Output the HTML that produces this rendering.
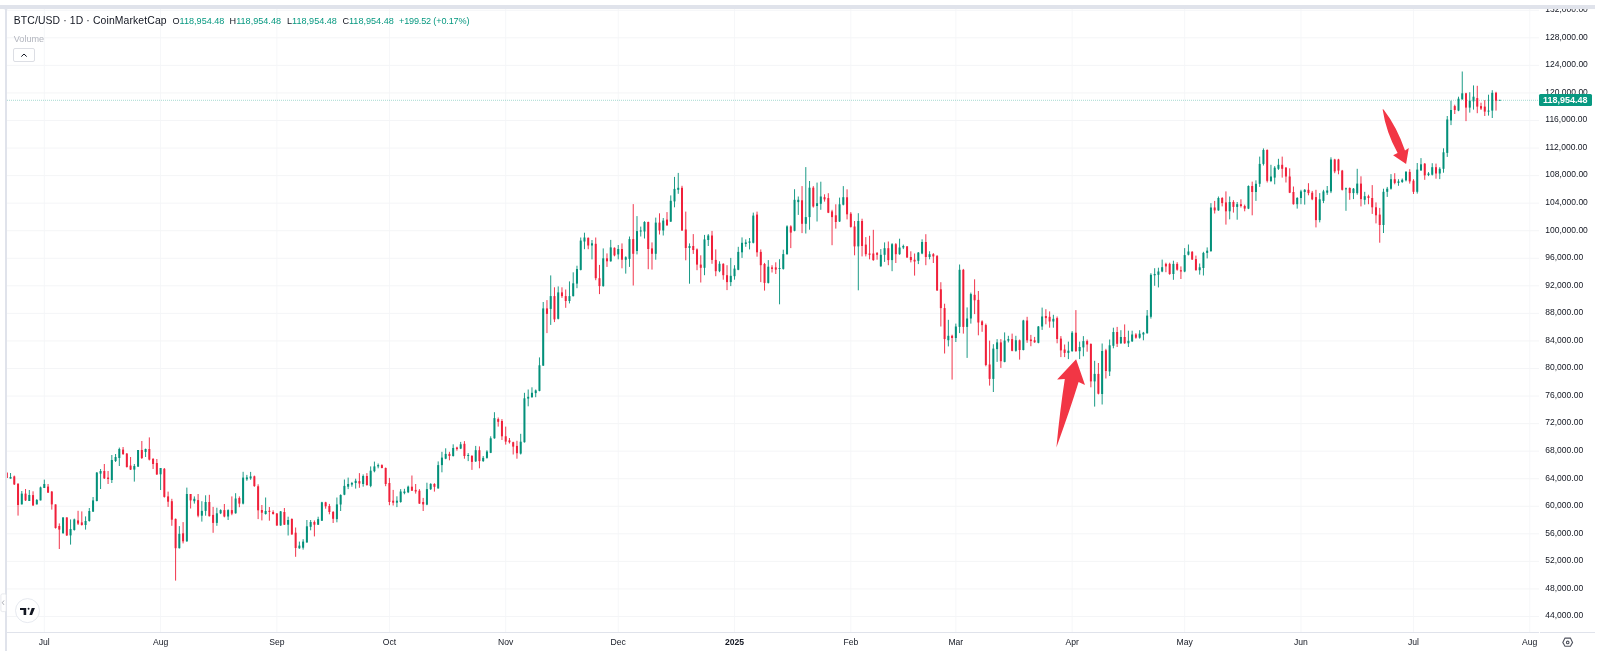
<!DOCTYPE html>
<html><head><meta charset="utf-8"><style>
*{margin:0;padding:0;box-sizing:border-box}
html,body{width:1600px;height:655px;overflow:hidden;background:#fff;font-family:"Liberation Sans",sans-serif;}
.t{position:absolute;left:0;top:0;width:1600px;height:655px;will-change:transform}
.fr{position:absolute;background:#e0e3eb}
.pl{position:absolute;left:1545.3px;font-size:8.5px;line-height:12px;color:#131722;white-space:nowrap}
.tl{position:absolute;top:636px;width:60px;text-align:center;font-size:8.6px;line-height:12px;color:#131722}
.tl.b{font-weight:bold}
.hdr{position:absolute;left:13.8px;top:14px;font-size:10.4px;letter-spacing:0.12px;line-height:14px;color:#131722;white-space:nowrap}
.ohlc{position:absolute;top:14.5px;font-size:9.1px;line-height:12px;white-space:nowrap;color:#131722}
.ohlc span{color:#089981}
.vol{position:absolute;left:13.8px;top:33.9px;font-size:9.1px;line-height:11px;color:#b2b5be}
.btn{position:absolute;left:13.2px;top:47.6px;width:21.6px;height:14.8px;border:1px solid #dcdee4;border-radius:2px;background:#fff}
.tag{position:absolute;left:1539px;top:94.1px;width:52.8px;height:12px;background:#089981;border-radius:1.5px;color:#fff;font-weight:bold;font-size:9px;line-height:12px;text-align:right;padding-right:4.2px}
</style></head><body>
<svg width="1600" height="655" viewBox="0 0 1600 655" style="position:absolute;left:0;top:0">
<defs><clipPath id="cp"><rect x="7" y="8.7" width="1532" height="623.3"/></clipPath></defs>
<g clip-path="url(#cp)">
<rect x="43.80" y="8.7" width="1" height="623.3" fill="#f6f7f9"/><rect x="160.09" y="8.7" width="1" height="623.3" fill="#f6f7f9"/><rect x="276.37" y="8.7" width="1" height="623.3" fill="#f6f7f9"/><rect x="388.91" y="8.7" width="1" height="623.3" fill="#f6f7f9"/><rect x="505.20" y="8.7" width="1" height="623.3" fill="#f6f7f9"/><rect x="617.73" y="8.7" width="1" height="623.3" fill="#f6f7f9"/><rect x="734.02" y="8.7" width="1" height="623.3" fill="#f6f7f9"/><rect x="850.31" y="8.7" width="1" height="623.3" fill="#f6f7f9"/><rect x="955.34" y="8.7" width="1" height="623.3" fill="#f6f7f9"/><rect x="1071.63" y="8.7" width="1" height="623.3" fill="#f6f7f9"/><rect x="1184.16" y="8.7" width="1" height="623.3" fill="#f6f7f9"/><rect x="1300.45" y="8.7" width="1" height="623.3" fill="#f6f7f9"/><rect x="1412.99" y="8.7" width="1" height="623.3" fill="#f6f7f9"/><rect x="1529.28" y="8.7" width="1" height="623.3" fill="#f6f7f9"/><rect x="7" y="616.00" width="1532" height="1" fill="#f4f5f7"/><rect x="7" y="588.44" width="1532" height="1" fill="#f4f5f7"/><rect x="7" y="560.89" width="1532" height="1" fill="#f4f5f7"/><rect x="7" y="533.33" width="1532" height="1" fill="#f4f5f7"/><rect x="7" y="505.78" width="1532" height="1" fill="#f4f5f7"/><rect x="7" y="478.22" width="1532" height="1" fill="#f4f5f7"/><rect x="7" y="450.66" width="1532" height="1" fill="#f4f5f7"/><rect x="7" y="423.11" width="1532" height="1" fill="#f4f5f7"/><rect x="7" y="395.55" width="1532" height="1" fill="#f4f5f7"/><rect x="7" y="368.00" width="1532" height="1" fill="#f4f5f7"/><rect x="7" y="340.44" width="1532" height="1" fill="#f4f5f7"/><rect x="7" y="312.88" width="1532" height="1" fill="#f4f5f7"/><rect x="7" y="285.33" width="1532" height="1" fill="#f4f5f7"/><rect x="7" y="257.77" width="1532" height="1" fill="#f4f5f7"/><rect x="7" y="230.22" width="1532" height="1" fill="#f4f5f7"/><rect x="7" y="202.66" width="1532" height="1" fill="#f4f5f7"/><rect x="7" y="175.10" width="1532" height="1" fill="#f4f5f7"/><rect x="7" y="147.55" width="1532" height="1" fill="#f4f5f7"/><rect x="7" y="119.99" width="1532" height="1" fill="#f4f5f7"/><rect x="7" y="92.44" width="1532" height="1" fill="#f4f5f7"/><rect x="7" y="64.88" width="1532" height="1" fill="#f4f5f7"/><rect x="7" y="37.32" width="1532" height="1" fill="#f4f5f7"/><rect x="7" y="9.77" width="1532" height="1" fill="#f4f5f7"/>
<line x1="7" y1="100.3" x2="1539" y2="100.3" stroke="#089981" stroke-width="1" stroke-dasharray="1 1" opacity="0.35"/>
<rect x="6.29" y="472.6" width="1.0" height="5.4" fill="#f0203a" opacity="0.9"/><rect x="5.79" y="472.6" width="2.0" height="5.4" fill="#f0203a"/><rect x="10.04" y="473.0" width="1.0" height="5.6" fill="#03907a" opacity="0.9"/><rect x="9.54" y="477.0" width="2.0" height="1.6" fill="#03907a"/><rect x="13.79" y="475.6" width="1.0" height="9.4" fill="#f0203a" opacity="0.9"/><rect x="13.29" y="476.4" width="2.0" height="8.0" fill="#f0203a"/><rect x="17.54" y="483.6" width="1.0" height="32.0" fill="#f0203a" opacity="0.9"/><rect x="17.04" y="483.6" width="2.0" height="21.4" fill="#f0203a"/><rect x="21.29" y="491.0" width="1.0" height="13.4" fill="#03907a" opacity="0.9"/><rect x="20.79" y="493.6" width="2.0" height="10.8" fill="#03907a"/><rect x="25.04" y="489.0" width="1.0" height="12.0" fill="#f0203a" opacity="0.9"/><rect x="24.54" y="493.6" width="2.0" height="6.8" fill="#f0203a"/><rect x="28.80" y="490.0" width="1.0" height="11.0" fill="#03907a" opacity="0.9"/><rect x="28.30" y="495.0" width="2.0" height="6.0" fill="#03907a"/><rect x="32.55" y="491.3" width="1.0" height="14.7" fill="#f0203a" opacity="0.9"/><rect x="32.05" y="495.1" width="2.0" height="10.3" fill="#f0203a"/><rect x="36.30" y="499.0" width="1.0" height="5.4" fill="#03907a" opacity="0.9"/><rect x="35.80" y="500.0" width="2.0" height="4.4" fill="#03907a"/><rect x="40.05" y="486.6" width="1.0" height="13.8" fill="#03907a" opacity="0.9"/><rect x="39.55" y="487.4" width="2.0" height="13.0" fill="#03907a"/><rect x="43.80" y="479.6" width="1.0" height="8.4" fill="#03907a" opacity="0.9"/><rect x="43.30" y="484.0" width="2.0" height="4.0" fill="#03907a"/><rect x="47.55" y="484.0" width="1.0" height="9.0" fill="#f0203a" opacity="0.9"/><rect x="47.05" y="486.6" width="2.0" height="6.0" fill="#f0203a"/><rect x="51.30" y="491.0" width="1.0" height="18.6" fill="#f0203a" opacity="0.9"/><rect x="50.80" y="491.6" width="2.0" height="12.8" fill="#f0203a"/><rect x="55.05" y="504.4" width="1.0" height="24.2" fill="#f0203a" opacity="0.9"/><rect x="54.55" y="504.4" width="2.0" height="23.6" fill="#f0203a"/><rect x="58.80" y="523.4" width="1.0" height="25.6" fill="#f0203a" opacity="0.9"/><rect x="58.30" y="526.0" width="2.0" height="3.6" fill="#f0203a"/><rect x="62.56" y="517.4" width="1.0" height="16.6" fill="#03907a" opacity="0.9"/><rect x="62.06" y="517.4" width="2.0" height="15.6" fill="#03907a"/><rect x="66.31" y="517.4" width="1.0" height="18.6" fill="#f0203a" opacity="0.9"/><rect x="65.81" y="517.4" width="2.0" height="18.0" fill="#f0203a"/><rect x="70.06" y="519.4" width="1.0" height="25.2" fill="#03907a" opacity="0.9"/><rect x="69.56" y="529.0" width="2.0" height="6.4" fill="#03907a"/><rect x="73.81" y="518.6" width="1.0" height="12.0" fill="#03907a" opacity="0.9"/><rect x="73.31" y="519.4" width="2.0" height="10.6" fill="#03907a"/><rect x="77.56" y="510.8" width="1.0" height="14.2" fill="#f0203a" opacity="0.9"/><rect x="77.06" y="520.4" width="2.0" height="3.2" fill="#f0203a"/><rect x="81.31" y="511.4" width="1.0" height="14.2" fill="#f0203a" opacity="0.9"/><rect x="80.81" y="522.4" width="2.0" height="2.6" fill="#f0203a"/><rect x="85.06" y="516.4" width="1.0" height="13.2" fill="#03907a" opacity="0.9"/><rect x="84.56" y="521.0" width="2.0" height="4.0" fill="#03907a"/><rect x="88.81" y="508.0" width="1.0" height="13.6" fill="#03907a" opacity="0.9"/><rect x="88.31" y="511.0" width="2.0" height="10.0" fill="#03907a"/><rect x="92.57" y="497.0" width="1.0" height="15.0" fill="#03907a" opacity="0.9"/><rect x="92.07" y="500.4" width="2.0" height="11.2" fill="#03907a"/><rect x="96.32" y="472.0" width="1.0" height="29.4" fill="#03907a" opacity="0.9"/><rect x="95.82" y="472.6" width="2.0" height="28.4" fill="#03907a"/><rect x="100.07" y="469.0" width="1.0" height="20.0" fill="#03907a" opacity="0.9"/><rect x="99.57" y="471.0" width="2.0" height="2.6" fill="#03907a"/><rect x="103.82" y="464.0" width="1.0" height="15.0" fill="#f0203a" opacity="0.9"/><rect x="103.32" y="471.0" width="2.0" height="7.4" fill="#f0203a"/><rect x="107.57" y="471.0" width="1.0" height="13.0" fill="#f0203a" opacity="0.9"/><rect x="107.07" y="477.6" width="2.0" height="1.4" fill="#f0203a"/><rect x="111.32" y="455.0" width="1.0" height="28.0" fill="#03907a" opacity="0.9"/><rect x="110.82" y="460.0" width="2.0" height="20.0" fill="#03907a"/><rect x="115.07" y="454.0" width="1.0" height="8.0" fill="#03907a" opacity="0.9"/><rect x="114.57" y="457.0" width="2.0" height="4.0" fill="#03907a"/><rect x="118.82" y="447.6" width="1.0" height="18.4" fill="#03907a" opacity="0.9"/><rect x="118.32" y="449.0" width="2.0" height="9.0" fill="#03907a"/><rect x="122.58" y="447.0" width="1.0" height="8.0" fill="#f0203a" opacity="0.9"/><rect x="122.08" y="449.6" width="2.0" height="4.4" fill="#f0203a"/><rect x="126.33" y="453.0" width="1.0" height="14.6" fill="#f0203a" opacity="0.9"/><rect x="125.83" y="453.6" width="2.0" height="13.4" fill="#f0203a"/><rect x="130.08" y="457.0" width="1.0" height="13.0" fill="#f0203a" opacity="0.9"/><rect x="129.58" y="465.6" width="2.0" height="4.0" fill="#f0203a"/><rect x="133.83" y="464.0" width="1.0" height="17.6" fill="#03907a" opacity="0.9"/><rect x="133.33" y="466.0" width="2.0" height="3.6" fill="#03907a"/><rect x="137.58" y="450.0" width="1.0" height="17.0" fill="#03907a" opacity="0.9"/><rect x="137.08" y="450.0" width="2.0" height="16.6" fill="#03907a"/><rect x="141.33" y="441.0" width="1.0" height="18.0" fill="#f0203a" opacity="0.9"/><rect x="140.83" y="450.0" width="2.0" height="8.0" fill="#f0203a"/><rect x="145.08" y="448.6" width="1.0" height="8.4" fill="#03907a" opacity="0.9"/><rect x="144.58" y="449.0" width="2.0" height="3.0" fill="#03907a"/><rect x="148.83" y="437.4" width="1.0" height="23.0" fill="#f0203a" opacity="0.9"/><rect x="148.33" y="449.0" width="2.0" height="10.6" fill="#f0203a"/><rect x="152.58" y="458.0" width="1.0" height="11.0" fill="#f0203a" opacity="0.9"/><rect x="152.08" y="459.0" width="2.0" height="5.0" fill="#f0203a"/><rect x="156.34" y="459.0" width="1.0" height="16.0" fill="#f0203a" opacity="0.9"/><rect x="155.84" y="463.0" width="2.0" height="11.4" fill="#f0203a"/><rect x="160.09" y="468.0" width="1.0" height="22.0" fill="#03907a" opacity="0.9"/><rect x="159.59" y="468.0" width="2.0" height="6.3" fill="#03907a"/><rect x="163.84" y="468.0" width="1.0" height="29.6" fill="#f0203a" opacity="0.9"/><rect x="163.34" y="468.8" width="2.0" height="28.1" fill="#f0203a"/><rect x="167.59" y="491.6" width="1.0" height="15.3" fill="#f0203a" opacity="0.9"/><rect x="167.09" y="496.4" width="2.0" height="5.3" fill="#f0203a"/><rect x="171.34" y="498.8" width="1.0" height="27.0" fill="#f0203a" opacity="0.9"/><rect x="170.84" y="501.2" width="2.0" height="18.5" fill="#f0203a"/><rect x="175.09" y="518.5" width="1.0" height="62.1" fill="#f0203a" opacity="0.9"/><rect x="174.59" y="518.9" width="2.0" height="29.3" fill="#f0203a"/><rect x="178.84" y="526.1" width="1.0" height="22.4" fill="#03907a" opacity="0.9"/><rect x="178.34" y="533.8" width="2.0" height="14.4" fill="#03907a"/><rect x="182.59" y="522.1" width="1.0" height="21.3" fill="#f0203a" opacity="0.9"/><rect x="182.09" y="533.3" width="2.0" height="8.0" fill="#f0203a"/><rect x="186.35" y="487.6" width="1.0" height="54.2" fill="#03907a" opacity="0.9"/><rect x="185.85" y="494.0" width="2.0" height="47.3" fill="#03907a"/><rect x="190.10" y="494.0" width="1.0" height="14.5" fill="#f0203a" opacity="0.9"/><rect x="189.60" y="494.0" width="2.0" height="6.4" fill="#f0203a"/><rect x="193.85" y="496.4" width="1.0" height="7.2" fill="#03907a" opacity="0.9"/><rect x="193.35" y="498.8" width="2.0" height="2.4" fill="#03907a"/><rect x="197.60" y="494.0" width="1.0" height="23.3" fill="#f0203a" opacity="0.9"/><rect x="197.10" y="500.1" width="2.0" height="15.6" fill="#f0203a"/><rect x="201.35" y="501.2" width="1.0" height="20.4" fill="#03907a" opacity="0.9"/><rect x="200.85" y="510.9" width="2.0" height="4.8" fill="#03907a"/><rect x="205.10" y="495.3" width="1.0" height="20.4" fill="#03907a" opacity="0.9"/><rect x="204.60" y="502.0" width="2.0" height="8.9" fill="#03907a"/><rect x="208.85" y="494.8" width="1.0" height="21.7" fill="#f0203a" opacity="0.9"/><rect x="208.35" y="502.0" width="2.0" height="14.2" fill="#f0203a"/><rect x="212.60" y="506.9" width="1.0" height="25.9" fill="#f0203a" opacity="0.9"/><rect x="212.10" y="514.9" width="2.0" height="8.0" fill="#f0203a"/><rect x="216.36" y="507.7" width="1.0" height="18.1" fill="#03907a" opacity="0.9"/><rect x="215.86" y="513.3" width="2.0" height="9.6" fill="#03907a"/><rect x="220.11" y="509.3" width="1.0" height="4.8" fill="#03907a" opacity="0.9"/><rect x="219.61" y="510.1" width="2.0" height="3.2" fill="#03907a"/><rect x="223.86" y="504.0" width="1.0" height="13.3" fill="#f0203a" opacity="0.9"/><rect x="223.36" y="510.1" width="2.0" height="6.4" fill="#f0203a"/><rect x="227.61" y="509.3" width="1.0" height="10.7" fill="#03907a" opacity="0.9"/><rect x="227.11" y="510.1" width="2.0" height="6.4" fill="#03907a"/><rect x="231.36" y="496.4" width="1.0" height="18.8" fill="#f0203a" opacity="0.9"/><rect x="230.86" y="510.1" width="2.0" height="3.5" fill="#f0203a"/><rect x="235.11" y="493.2" width="1.0" height="20.4" fill="#03907a" opacity="0.9"/><rect x="234.61" y="498.5" width="2.0" height="14.8" fill="#03907a"/><rect x="238.86" y="496.4" width="1.0" height="10.8" fill="#f0203a" opacity="0.9"/><rect x="238.36" y="498.0" width="2.0" height="5.6" fill="#f0203a"/><rect x="242.61" y="471.8" width="1.0" height="32.6" fill="#03907a" opacity="0.9"/><rect x="242.11" y="477.6" width="2.0" height="26.0" fill="#03907a"/><rect x="246.36" y="474.9" width="1.0" height="5.9" fill="#03907a" opacity="0.9"/><rect x="245.86" y="477.4" width="2.0" height="1.9" fill="#03907a"/><rect x="250.12" y="471.9" width="1.0" height="7.9" fill="#03907a" opacity="0.9"/><rect x="249.62" y="476.4" width="2.0" height="2.0" fill="#03907a"/><rect x="253.87" y="475.6" width="1.0" height="11.2" fill="#f0203a" opacity="0.9"/><rect x="253.37" y="476.3" width="2.0" height="9.8" fill="#f0203a"/><rect x="257.62" y="484.3" width="1.0" height="34.8" fill="#f0203a" opacity="0.9"/><rect x="257.12" y="486.3" width="2.0" height="24.0" fill="#f0203a"/><rect x="261.37" y="505.0" width="1.0" height="15.4" fill="#f0203a" opacity="0.9"/><rect x="260.87" y="510.0" width="2.0" height="2.7" fill="#f0203a"/><rect x="265.12" y="497.5" width="1.0" height="17.1" fill="#03907a" opacity="0.9"/><rect x="264.62" y="511.0" width="2.0" height="3.0" fill="#03907a"/><rect x="268.87" y="507.0" width="1.0" height="13.7" fill="#f0203a" opacity="0.9"/><rect x="268.37" y="510.8" width="2.0" height="1.1" fill="#f0203a"/><rect x="272.62" y="510.3" width="1.0" height="4.3" fill="#f0203a" opacity="0.9"/><rect x="272.12" y="512.0" width="2.0" height="2.0" fill="#f0203a"/><rect x="276.37" y="513.0" width="1.0" height="12.8" fill="#f0203a" opacity="0.9"/><rect x="275.87" y="513.5" width="2.0" height="12.0" fill="#f0203a"/><rect x="280.13" y="511.0" width="1.0" height="14.8" fill="#03907a" opacity="0.9"/><rect x="279.63" y="511.4" width="2.0" height="14.1" fill="#03907a"/><rect x="283.88" y="508.0" width="1.0" height="17.0" fill="#f0203a" opacity="0.9"/><rect x="283.38" y="512.0" width="2.0" height="12.7" fill="#f0203a"/><rect x="287.63" y="516.7" width="1.0" height="18.8" fill="#03907a" opacity="0.9"/><rect x="287.13" y="520.0" width="2.0" height="4.7" fill="#03907a"/><rect x="291.38" y="518.3" width="1.0" height="16.5" fill="#f0203a" opacity="0.9"/><rect x="290.88" y="519.0" width="2.0" height="15.4" fill="#f0203a"/><rect x="295.13" y="527.5" width="1.0" height="29.3" fill="#f0203a" opacity="0.9"/><rect x="294.63" y="532.7" width="2.0" height="15.3" fill="#f0203a"/><rect x="298.88" y="541.6" width="1.0" height="7.2" fill="#03907a" opacity="0.9"/><rect x="298.38" y="545.6" width="2.0" height="2.7" fill="#03907a"/><rect x="302.63" y="539.2" width="1.0" height="10.4" fill="#03907a" opacity="0.9"/><rect x="302.13" y="541.6" width="2.0" height="6.1" fill="#03907a"/><rect x="306.38" y="520.0" width="1.0" height="22.8" fill="#03907a" opacity="0.9"/><rect x="305.88" y="526.3" width="2.0" height="16.1" fill="#03907a"/><rect x="310.14" y="520.0" width="1.0" height="10.3" fill="#03907a" opacity="0.9"/><rect x="309.64" y="522.0" width="2.0" height="4.8" fill="#03907a"/><rect x="313.89" y="520.4" width="1.0" height="16.0" fill="#f0203a" opacity="0.9"/><rect x="313.39" y="522.0" width="2.0" height="2.7" fill="#f0203a"/><rect x="317.64" y="516.7" width="1.0" height="8.3" fill="#03907a" opacity="0.9"/><rect x="317.14" y="519.1" width="2.0" height="5.6" fill="#03907a"/><rect x="321.39" y="501.8" width="1.0" height="19.2" fill="#03907a" opacity="0.9"/><rect x="320.89" y="502.3" width="2.0" height="18.4" fill="#03907a"/><rect x="325.14" y="501.8" width="1.0" height="6.9" fill="#f0203a" opacity="0.9"/><rect x="324.64" y="502.3" width="2.0" height="4.0" fill="#f0203a"/><rect x="328.89" y="503.9" width="1.0" height="10.4" fill="#f0203a" opacity="0.9"/><rect x="328.39" y="506.0" width="2.0" height="6.0" fill="#f0203a"/><rect x="332.64" y="511.0" width="1.0" height="12.0" fill="#f0203a" opacity="0.9"/><rect x="332.14" y="512.0" width="2.0" height="6.8" fill="#f0203a"/><rect x="336.39" y="497.5" width="1.0" height="24.8" fill="#03907a" opacity="0.9"/><rect x="335.89" y="504.4" width="2.0" height="14.7" fill="#03907a"/><rect x="340.14" y="494.3" width="1.0" height="16.7" fill="#03907a" opacity="0.9"/><rect x="339.64" y="495.0" width="2.0" height="9.5" fill="#03907a"/><rect x="343.90" y="479.5" width="1.0" height="15.7" fill="#03907a" opacity="0.9"/><rect x="343.40" y="485.9" width="2.0" height="8.8" fill="#03907a"/><rect x="347.65" y="477.6" width="1.0" height="11.5" fill="#03907a" opacity="0.9"/><rect x="347.15" y="484.0" width="2.0" height="2.7" fill="#03907a"/><rect x="351.40" y="481.9" width="1.0" height="4.8" fill="#03907a" opacity="0.9"/><rect x="350.90" y="483.0" width="2.0" height="1.6" fill="#03907a"/><rect x="355.15" y="478.7" width="1.0" height="9.9" fill="#03907a" opacity="0.9"/><rect x="354.65" y="480.8" width="2.0" height="2.2" fill="#03907a"/><rect x="358.90" y="473.1" width="1.0" height="14.7" fill="#f0203a" opacity="0.9"/><rect x="358.40" y="481.1" width="2.0" height="2.4" fill="#f0203a"/><rect x="362.65" y="474.4" width="1.0" height="12.3" fill="#03907a" opacity="0.9"/><rect x="362.15" y="476.0" width="2.0" height="8.0" fill="#03907a"/><rect x="366.40" y="473.1" width="1.0" height="12.5" fill="#f0203a" opacity="0.9"/><rect x="365.90" y="476.0" width="2.0" height="9.1" fill="#f0203a"/><rect x="370.15" y="466.4" width="1.0" height="20.8" fill="#03907a" opacity="0.9"/><rect x="369.65" y="470.7" width="2.0" height="15.2" fill="#03907a"/><rect x="373.91" y="461.6" width="1.0" height="10.7" fill="#03907a" opacity="0.9"/><rect x="373.41" y="466.4" width="2.0" height="4.8" fill="#03907a"/><rect x="377.66" y="463.5" width="1.0" height="4.8" fill="#03907a" opacity="0.9"/><rect x="377.16" y="465.1" width="2.0" height="1.3" fill="#03907a"/><rect x="381.41" y="464.3" width="1.0" height="4.0" fill="#f0203a" opacity="0.9"/><rect x="380.91" y="465.1" width="2.0" height="2.9" fill="#f0203a"/><rect x="385.16" y="467.5" width="1.0" height="18.7" fill="#f0203a" opacity="0.9"/><rect x="384.66" y="468.0" width="2.0" height="16.0" fill="#f0203a"/><rect x="388.91" y="477.9" width="1.0" height="27.3" fill="#f0203a" opacity="0.9"/><rect x="388.41" y="483.0" width="2.0" height="19.0" fill="#f0203a"/><rect x="392.66" y="489.9" width="1.0" height="15.6" fill="#f0203a" opacity="0.9"/><rect x="392.16" y="500.7" width="2.0" height="2.0" fill="#f0203a"/><rect x="396.41" y="496.3" width="1.0" height="10.8" fill="#03907a" opacity="0.9"/><rect x="395.91" y="500.7" width="2.0" height="2.0" fill="#03907a"/><rect x="400.16" y="489.1" width="1.0" height="13.6" fill="#03907a" opacity="0.9"/><rect x="399.66" y="491.5" width="2.0" height="10.5" fill="#03907a"/><rect x="403.92" y="488.8" width="1.0" height="5.5" fill="#03907a" opacity="0.9"/><rect x="403.42" y="491.5" width="2.0" height="1.6" fill="#03907a"/><rect x="407.67" y="485.6" width="1.0" height="7.5" fill="#03907a" opacity="0.9"/><rect x="407.17" y="486.7" width="2.0" height="5.6" fill="#03907a"/><rect x="411.42" y="475.5" width="1.0" height="15.5" fill="#f0203a" opacity="0.9"/><rect x="410.92" y="486.7" width="2.0" height="4.0" fill="#f0203a"/><rect x="415.17" y="484.0" width="1.0" height="9.6" fill="#f0203a" opacity="0.9"/><rect x="414.67" y="489.9" width="2.0" height="1.6" fill="#f0203a"/><rect x="418.92" y="489.1" width="1.0" height="14.8" fill="#f0203a" opacity="0.9"/><rect x="418.42" y="490.7" width="2.0" height="12.9" fill="#f0203a"/><rect x="422.67" y="497.9" width="1.0" height="13.1" fill="#f0203a" opacity="0.9"/><rect x="422.17" y="502.0" width="2.0" height="2.4" fill="#f0203a"/><rect x="426.42" y="482.7" width="1.0" height="22.5" fill="#03907a" opacity="0.9"/><rect x="425.92" y="489.1" width="2.0" height="15.5" fill="#03907a"/><rect x="430.17" y="483.2" width="1.0" height="6.8" fill="#03907a" opacity="0.9"/><rect x="429.67" y="483.9" width="2.0" height="5.3" fill="#03907a"/><rect x="433.92" y="483.2" width="1.0" height="8.4" fill="#f0203a" opacity="0.9"/><rect x="433.42" y="484.0" width="2.0" height="2.8" fill="#f0203a"/><rect x="437.68" y="461.4" width="1.0" height="27.3" fill="#03907a" opacity="0.9"/><rect x="437.18" y="465.1" width="2.0" height="23.3" fill="#03907a"/><rect x="441.43" y="451.8" width="1.0" height="20.5" fill="#03907a" opacity="0.9"/><rect x="440.93" y="457.6" width="2.0" height="7.5" fill="#03907a"/><rect x="445.18" y="448.3" width="1.0" height="10.9" fill="#03907a" opacity="0.9"/><rect x="444.68" y="453.9" width="2.0" height="4.8" fill="#03907a"/><rect x="448.93" y="451.8" width="1.0" height="8.5" fill="#f0203a" opacity="0.9"/><rect x="448.43" y="453.9" width="2.0" height="2.1" fill="#f0203a"/><rect x="452.68" y="444.3" width="1.0" height="12.3" fill="#03907a" opacity="0.9"/><rect x="452.18" y="448.0" width="2.0" height="8.0" fill="#03907a"/><rect x="456.43" y="446.7" width="1.0" height="4.0" fill="#f0203a" opacity="0.9"/><rect x="455.93" y="447.5" width="2.0" height="1.6" fill="#f0203a"/><rect x="460.18" y="441.9" width="1.0" height="7.2" fill="#03907a" opacity="0.9"/><rect x="459.68" y="444.3" width="2.0" height="4.3" fill="#03907a"/><rect x="463.93" y="441.1" width="1.0" height="17.6" fill="#f0203a" opacity="0.9"/><rect x="463.43" y="443.8" width="2.0" height="12.2" fill="#f0203a"/><rect x="467.69" y="453.1" width="1.0" height="8.0" fill="#03907a" opacity="0.9"/><rect x="467.19" y="455.0" width="2.0" height="1.0" fill="#03907a"/><rect x="471.44" y="455.0" width="1.0" height="14.9" fill="#f0203a" opacity="0.9"/><rect x="470.94" y="456.0" width="2.0" height="5.9" fill="#f0203a"/><rect x="475.19" y="445.9" width="1.0" height="16.0" fill="#03907a" opacity="0.9"/><rect x="474.69" y="450.2" width="2.0" height="11.2" fill="#03907a"/><rect x="478.94" y="446.4" width="1.0" height="21.9" fill="#f0203a" opacity="0.9"/><rect x="478.44" y="450.2" width="2.0" height="10.9" fill="#f0203a"/><rect x="482.69" y="456.0" width="1.0" height="5.9" fill="#03907a" opacity="0.9"/><rect x="482.19" y="457.9" width="2.0" height="3.2" fill="#03907a"/><rect x="486.44" y="450.2" width="1.0" height="8.5" fill="#03907a" opacity="0.9"/><rect x="485.94" y="451.5" width="2.0" height="6.4" fill="#03907a"/><rect x="490.19" y="436.3" width="1.0" height="16.8" fill="#03907a" opacity="0.9"/><rect x="489.69" y="438.3" width="2.0" height="14.5" fill="#03907a"/><rect x="493.94" y="412.2" width="1.0" height="26.5" fill="#03907a" opacity="0.9"/><rect x="493.44" y="418.1" width="2.0" height="20.2" fill="#03907a"/><rect x="497.70" y="417.5" width="1.0" height="9.1" fill="#f0203a" opacity="0.9"/><rect x="497.20" y="419.1" width="2.0" height="2.7" fill="#f0203a"/><rect x="501.45" y="419.1" width="1.0" height="20.9" fill="#f0203a" opacity="0.9"/><rect x="500.95" y="421.0" width="2.0" height="15.3" fill="#f0203a"/><rect x="505.20" y="426.6" width="1.0" height="18.0" fill="#f0203a" opacity="0.9"/><rect x="504.70" y="436.3" width="2.0" height="5.3" fill="#f0203a"/><rect x="508.95" y="438.0" width="1.0" height="5.5" fill="#f0203a" opacity="0.9"/><rect x="508.45" y="440.4" width="2.0" height="1.8" fill="#f0203a"/><rect x="512.70" y="441.7" width="1.0" height="12.8" fill="#f0203a" opacity="0.9"/><rect x="512.20" y="442.2" width="2.0" height="4.4" fill="#f0203a"/><rect x="516.45" y="440.8" width="1.0" height="17.9" fill="#f0203a" opacity="0.9"/><rect x="515.95" y="445.9" width="2.0" height="7.3" fill="#f0203a"/><rect x="520.20" y="433.8" width="1.0" height="20.7" fill="#03907a" opacity="0.9"/><rect x="519.70" y="441.7" width="2.0" height="11.9" fill="#03907a"/><rect x="523.95" y="392.8" width="1.0" height="49.8" fill="#03907a" opacity="0.9"/><rect x="523.45" y="398.3" width="2.0" height="43.9" fill="#03907a"/><rect x="527.70" y="389.5" width="1.0" height="16.8" fill="#03907a" opacity="0.9"/><rect x="527.20" y="396.8" width="2.0" height="1.8" fill="#03907a"/><rect x="531.46" y="387.3" width="1.0" height="10.4" fill="#03907a" opacity="0.9"/><rect x="530.96" y="392.8" width="2.0" height="4.4" fill="#03907a"/><rect x="535.21" y="389.5" width="1.0" height="7.7" fill="#03907a" opacity="0.9"/><rect x="534.71" y="390.4" width="2.0" height="2.7" fill="#03907a"/><rect x="538.96" y="357.4" width="1.0" height="33.9" fill="#03907a" opacity="0.9"/><rect x="538.46" y="365.3" width="2.0" height="25.6" fill="#03907a"/><rect x="542.71" y="302.0" width="1.0" height="64.0" fill="#03907a" opacity="0.9"/><rect x="542.21" y="308.4" width="2.0" height="57.2" fill="#03907a"/><rect x="546.46" y="300.1" width="1.0" height="33.0" fill="#f0203a" opacity="0.9"/><rect x="545.96" y="308.4" width="2.0" height="5.5" fill="#f0203a"/><rect x="550.21" y="275.4" width="1.0" height="49.5" fill="#03907a" opacity="0.9"/><rect x="549.71" y="296.1" width="2.0" height="12.8" fill="#03907a"/><rect x="553.96" y="287.3" width="1.0" height="34.8" fill="#f0203a" opacity="0.9"/><rect x="553.46" y="296.1" width="2.0" height="23.3" fill="#f0203a"/><rect x="557.71" y="286.4" width="1.0" height="33.0" fill="#03907a" opacity="0.9"/><rect x="557.21" y="292.4" width="2.0" height="26.4" fill="#03907a"/><rect x="561.47" y="287.3" width="1.0" height="10.6" fill="#f0203a" opacity="0.9"/><rect x="560.97" y="292.4" width="2.0" height="3.7" fill="#f0203a"/><rect x="565.22" y="289.5" width="1.0" height="18.3" fill="#f0203a" opacity="0.9"/><rect x="564.72" y="296.1" width="2.0" height="4.9" fill="#f0203a"/><rect x="568.97" y="281.4" width="1.0" height="22.0" fill="#03907a" opacity="0.9"/><rect x="568.47" y="296.1" width="2.0" height="4.9" fill="#03907a"/><rect x="572.72" y="272.3" width="1.0" height="24.2" fill="#03907a" opacity="0.9"/><rect x="572.22" y="283.3" width="2.0" height="12.8" fill="#03907a"/><rect x="576.47" y="265.7" width="1.0" height="22.5" fill="#03907a" opacity="0.9"/><rect x="575.97" y="269.0" width="2.0" height="14.6" fill="#03907a"/><rect x="580.22" y="237.5" width="1.0" height="32.9" fill="#03907a" opacity="0.9"/><rect x="579.72" y="240.6" width="2.0" height="29.3" fill="#03907a"/><rect x="583.97" y="232.7" width="1.0" height="16.5" fill="#03907a" opacity="0.9"/><rect x="583.47" y="237.5" width="2.0" height="4.0" fill="#03907a"/><rect x="587.72" y="237.5" width="1.0" height="11.7" fill="#f0203a" opacity="0.9"/><rect x="587.22" y="237.8" width="2.0" height="7.7" fill="#f0203a"/><rect x="591.48" y="240.0" width="1.0" height="19.4" fill="#03907a" opacity="0.9"/><rect x="590.98" y="243.3" width="2.0" height="2.2" fill="#03907a"/><rect x="595.23" y="237.5" width="1.0" height="42.7" fill="#f0203a" opacity="0.9"/><rect x="594.73" y="243.8" width="2.0" height="34.4" fill="#f0203a"/><rect x="598.98" y="264.9" width="1.0" height="29.2" fill="#f0203a" opacity="0.9"/><rect x="598.48" y="278.2" width="2.0" height="7.9" fill="#f0203a"/><rect x="602.73" y="248.4" width="1.0" height="38.3" fill="#03907a" opacity="0.9"/><rect x="602.23" y="258.3" width="2.0" height="27.8" fill="#03907a"/><rect x="606.48" y="253.4" width="1.0" height="13.5" fill="#f0203a" opacity="0.9"/><rect x="605.98" y="258.3" width="2.0" height="3.0" fill="#f0203a"/><rect x="610.23" y="239.9" width="1.0" height="21.8" fill="#03907a" opacity="0.9"/><rect x="609.73" y="247.4" width="2.0" height="13.9" fill="#03907a"/><rect x="613.98" y="247.4" width="1.0" height="8.9" fill="#f0203a" opacity="0.9"/><rect x="613.48" y="247.8" width="2.0" height="7.6" fill="#f0203a"/><rect x="617.73" y="245.0" width="1.0" height="14.3" fill="#03907a" opacity="0.9"/><rect x="617.23" y="249.0" width="2.0" height="5.4" fill="#03907a"/><rect x="621.48" y="243.4" width="1.0" height="24.9" fill="#f0203a" opacity="0.9"/><rect x="620.98" y="249.0" width="2.0" height="10.7" fill="#f0203a"/><rect x="625.24" y="256.3" width="1.0" height="17.3" fill="#03907a" opacity="0.9"/><rect x="624.74" y="257.3" width="2.0" height="2.4" fill="#03907a"/><rect x="628.99" y="236.5" width="1.0" height="30.4" fill="#03907a" opacity="0.9"/><rect x="628.49" y="239.1" width="2.0" height="19.8" fill="#03907a"/><rect x="632.74" y="204.1" width="1.0" height="81.4" fill="#f0203a" opacity="0.9"/><rect x="632.24" y="239.1" width="2.0" height="14.7" fill="#f0203a"/><rect x="636.49" y="216.1" width="1.0" height="38.3" fill="#03907a" opacity="0.9"/><rect x="635.99" y="231.1" width="2.0" height="19.9" fill="#03907a"/><rect x="640.24" y="226.6" width="1.0" height="9.9" fill="#03907a" opacity="0.9"/><rect x="639.74" y="230.5" width="2.0" height="1.0" fill="#03907a"/><rect x="643.99" y="221.2" width="1.0" height="17.3" fill="#03907a" opacity="0.9"/><rect x="643.49" y="222.0" width="2.0" height="9.5" fill="#03907a"/><rect x="647.74" y="221.6" width="1.0" height="47.6" fill="#f0203a" opacity="0.9"/><rect x="647.24" y="222.0" width="2.0" height="27.0" fill="#f0203a"/><rect x="651.49" y="242.4" width="1.0" height="27.2" fill="#f0203a" opacity="0.9"/><rect x="650.99" y="248.4" width="2.0" height="5.4" fill="#f0203a"/><rect x="655.25" y="217.6" width="1.0" height="42.1" fill="#03907a" opacity="0.9"/><rect x="654.75" y="222.6" width="2.0" height="31.2" fill="#03907a"/><rect x="659.00" y="213.3" width="1.0" height="21.2" fill="#f0203a" opacity="0.9"/><rect x="658.50" y="222.6" width="2.0" height="7.9" fill="#f0203a"/><rect x="662.75" y="218.0" width="1.0" height="17.5" fill="#03907a" opacity="0.9"/><rect x="662.25" y="220.6" width="2.0" height="9.9" fill="#03907a"/><rect x="666.50" y="212.1" width="1.0" height="13.9" fill="#f0203a" opacity="0.9"/><rect x="666.00" y="219.6" width="2.0" height="5.6" fill="#f0203a"/><rect x="670.25" y="195.4" width="1.0" height="26.6" fill="#03907a" opacity="0.9"/><rect x="669.75" y="200.8" width="2.0" height="20.8" fill="#03907a"/><rect x="674.00" y="176.9" width="1.0" height="30.4" fill="#03907a" opacity="0.9"/><rect x="673.50" y="188.9" width="2.0" height="12.5" fill="#03907a"/><rect x="677.75" y="172.9" width="1.0" height="20.9" fill="#03907a" opacity="0.9"/><rect x="677.25" y="187.8" width="2.0" height="2.0" fill="#03907a"/><rect x="681.50" y="185.8" width="1.0" height="45.1" fill="#f0203a" opacity="0.9"/><rect x="681.00" y="187.8" width="2.0" height="42.7" fill="#f0203a"/><rect x="685.26" y="211.6" width="1.0" height="48.7" fill="#f0203a" opacity="0.9"/><rect x="684.76" y="229.5" width="2.0" height="18.5" fill="#f0203a"/><rect x="689.01" y="243.4" width="1.0" height="40.3" fill="#03907a" opacity="0.9"/><rect x="688.51" y="246.0" width="2.0" height="2.0" fill="#03907a"/><rect x="692.76" y="234.1" width="1.0" height="19.8" fill="#f0203a" opacity="0.9"/><rect x="692.26" y="246.0" width="2.0" height="4.0" fill="#f0203a"/><rect x="696.51" y="248.4" width="1.0" height="21.8" fill="#f0203a" opacity="0.9"/><rect x="696.01" y="249.4" width="2.0" height="15.2" fill="#f0203a"/><rect x="700.26" y="255.3" width="1.0" height="27.2" fill="#f0203a" opacity="0.9"/><rect x="699.76" y="264.6" width="2.0" height="3.2" fill="#f0203a"/><rect x="704.01" y="234.9" width="1.0" height="40.3" fill="#03907a" opacity="0.9"/><rect x="703.51" y="239.4" width="2.0" height="28.4" fill="#03907a"/><rect x="707.76" y="234.1" width="1.0" height="11.9" fill="#03907a" opacity="0.9"/><rect x="707.26" y="235.5" width="2.0" height="4.5" fill="#03907a"/><rect x="711.51" y="230.9" width="1.0" height="32.9" fill="#f0203a" opacity="0.9"/><rect x="711.01" y="235.5" width="2.0" height="24.4" fill="#f0203a"/><rect x="715.26" y="249.4" width="1.0" height="26.8" fill="#f0203a" opacity="0.9"/><rect x="714.76" y="259.9" width="2.0" height="11.3" fill="#f0203a"/><rect x="719.02" y="261.3" width="1.0" height="10.9" fill="#03907a" opacity="0.9"/><rect x="718.52" y="263.8" width="2.0" height="7.4" fill="#03907a"/><rect x="722.77" y="263.3" width="1.0" height="16.4" fill="#f0203a" opacity="0.9"/><rect x="722.27" y="263.8" width="2.0" height="11.4" fill="#f0203a"/><rect x="726.52" y="265.2" width="1.0" height="24.9" fill="#f0203a" opacity="0.9"/><rect x="726.02" y="275.2" width="2.0" height="6.9" fill="#f0203a"/><rect x="730.27" y="257.9" width="1.0" height="28.2" fill="#03907a" opacity="0.9"/><rect x="729.77" y="275.8" width="2.0" height="6.3" fill="#03907a"/><rect x="734.02" y="265.2" width="1.0" height="14.5" fill="#03907a" opacity="0.9"/><rect x="733.52" y="268.6" width="2.0" height="7.6" fill="#03907a"/><rect x="737.77" y="246.8" width="1.0" height="23.4" fill="#03907a" opacity="0.9"/><rect x="737.27" y="251.9" width="2.0" height="17.9" fill="#03907a"/><rect x="741.52" y="237.4" width="1.0" height="20.5" fill="#03907a" opacity="0.9"/><rect x="741.02" y="242.8" width="2.0" height="9.5" fill="#03907a"/><rect x="745.27" y="239.4" width="1.0" height="7.4" fill="#03907a" opacity="0.9"/><rect x="744.77" y="242.4" width="2.0" height="1.6" fill="#03907a"/><rect x="749.03" y="238.0" width="1.0" height="11.4" fill="#03907a" opacity="0.9"/><rect x="748.53" y="241.4" width="2.0" height="1.4" fill="#03907a"/><rect x="752.78" y="212.6" width="1.0" height="30.8" fill="#03907a" opacity="0.9"/><rect x="752.28" y="215.6" width="2.0" height="27.2" fill="#03907a"/><rect x="756.53" y="211.6" width="1.0" height="45.1" fill="#f0203a" opacity="0.9"/><rect x="756.03" y="214.6" width="2.0" height="37.7" fill="#f0203a"/><rect x="760.28" y="249.4" width="1.0" height="32.7" fill="#f0203a" opacity="0.9"/><rect x="759.78" y="251.9" width="2.0" height="13.3" fill="#f0203a"/><rect x="764.03" y="262.9" width="1.0" height="27.7" fill="#f0203a" opacity="0.9"/><rect x="763.53" y="264.0" width="2.0" height="18.9" fill="#f0203a"/><rect x="767.78" y="260.1" width="1.0" height="23.4" fill="#03907a" opacity="0.9"/><rect x="767.28" y="266.7" width="2.0" height="16.2" fill="#03907a"/><rect x="771.53" y="265.2" width="1.0" height="7.3" fill="#f0203a" opacity="0.9"/><rect x="771.03" y="267.4" width="2.0" height="1.5" fill="#f0203a"/><rect x="775.28" y="262.3" width="1.0" height="11.7" fill="#f0203a" opacity="0.9"/><rect x="774.78" y="267.4" width="2.0" height="2.2" fill="#f0203a"/><rect x="779.04" y="259.2" width="1.0" height="45.1" fill="#03907a" opacity="0.9"/><rect x="778.54" y="268.0" width="2.0" height="1.0" fill="#03907a"/><rect x="782.79" y="249.7" width="1.0" height="19.9" fill="#03907a" opacity="0.9"/><rect x="782.29" y="254.1" width="2.0" height="14.8" fill="#03907a"/><rect x="786.54" y="225.3" width="1.0" height="29.5" fill="#03907a" opacity="0.9"/><rect x="786.04" y="226.4" width="2.0" height="27.7" fill="#03907a"/><rect x="790.29" y="225.3" width="1.0" height="22.8" fill="#f0203a" opacity="0.9"/><rect x="789.79" y="226.4" width="2.0" height="6.2" fill="#f0203a"/><rect x="794.04" y="189.2" width="1.0" height="42.1" fill="#03907a" opacity="0.9"/><rect x="793.54" y="199.8" width="2.0" height="31.0" fill="#03907a"/><rect x="797.79" y="196.5" width="1.0" height="18.4" fill="#03907a" opacity="0.9"/><rect x="797.29" y="199.8" width="2.0" height="2.3" fill="#03907a"/><rect x="801.54" y="186.1" width="1.0" height="47.0" fill="#f0203a" opacity="0.9"/><rect x="801.04" y="200.3" width="2.0" height="23.5" fill="#f0203a"/><rect x="805.29" y="167.1" width="1.0" height="66.4" fill="#03907a" opacity="0.9"/><rect x="804.79" y="217.1" width="2.0" height="6.7" fill="#03907a"/><rect x="809.04" y="181.0" width="1.0" height="48.7" fill="#03907a" opacity="0.9"/><rect x="808.54" y="187.7" width="2.0" height="29.4" fill="#03907a"/><rect x="812.80" y="186.1" width="1.0" height="21.5" fill="#f0203a" opacity="0.9"/><rect x="812.30" y="187.7" width="2.0" height="18.8" fill="#f0203a"/><rect x="816.55" y="182.6" width="1.0" height="38.9" fill="#03907a" opacity="0.9"/><rect x="816.05" y="203.2" width="2.0" height="2.8" fill="#03907a"/><rect x="820.30" y="181.7" width="1.0" height="28.1" fill="#03907a" opacity="0.9"/><rect x="819.80" y="196.5" width="2.0" height="7.3" fill="#03907a"/><rect x="824.05" y="194.3" width="1.0" height="7.3" fill="#f0203a" opacity="0.9"/><rect x="823.55" y="197.2" width="2.0" height="2.2" fill="#f0203a"/><rect x="827.80" y="193.2" width="1.0" height="19.9" fill="#f0203a" opacity="0.9"/><rect x="827.30" y="198.1" width="2.0" height="14.6" fill="#f0203a"/><rect x="831.55" y="209.8" width="1.0" height="35.4" fill="#f0203a" opacity="0.9"/><rect x="831.05" y="211.4" width="2.0" height="5.7" fill="#f0203a"/><rect x="835.30" y="204.3" width="1.0" height="24.3" fill="#f0203a" opacity="0.9"/><rect x="834.80" y="215.3" width="2.0" height="6.7" fill="#f0203a"/><rect x="839.05" y="197.6" width="1.0" height="24.4" fill="#03907a" opacity="0.9"/><rect x="838.55" y="204.3" width="2.0" height="17.2" fill="#03907a"/><rect x="842.81" y="186.1" width="1.0" height="19.3" fill="#03907a" opacity="0.9"/><rect x="842.31" y="197.2" width="2.0" height="7.5" fill="#03907a"/><rect x="846.56" y="189.3" width="1.0" height="30.1" fill="#f0203a" opacity="0.9"/><rect x="846.06" y="197.3" width="2.0" height="17.0" fill="#f0203a"/><rect x="850.31" y="212.1" width="1.0" height="15.5" fill="#f0203a" opacity="0.9"/><rect x="849.81" y="213.7" width="2.0" height="13.2" fill="#f0203a"/><rect x="854.06" y="221.0" width="1.0" height="34.3" fill="#f0203a" opacity="0.9"/><rect x="853.56" y="226.5" width="2.0" height="19.9" fill="#f0203a"/><rect x="857.81" y="213.2" width="1.0" height="77.1" fill="#03907a" opacity="0.9"/><rect x="857.31" y="221.0" width="2.0" height="25.4" fill="#03907a"/><rect x="861.56" y="218.7" width="1.0" height="37.7" fill="#f0203a" opacity="0.9"/><rect x="861.06" y="221.0" width="2.0" height="25.0" fill="#f0203a"/><rect x="865.31" y="237.1" width="1.0" height="19.3" fill="#f0203a" opacity="0.9"/><rect x="864.81" y="244.6" width="2.0" height="9.6" fill="#f0203a"/><rect x="869.06" y="235.8" width="1.0" height="23.5" fill="#f0203a" opacity="0.9"/><rect x="868.56" y="253.5" width="2.0" height="1.3" fill="#f0203a"/><rect x="872.82" y="229.8" width="1.0" height="31.0" fill="#f0203a" opacity="0.9"/><rect x="872.32" y="253.5" width="2.0" height="6.6" fill="#f0203a"/><rect x="876.57" y="252.0" width="1.0" height="7.7" fill="#f0203a" opacity="0.9"/><rect x="876.07" y="253.1" width="2.0" height="1.7" fill="#f0203a"/><rect x="880.32" y="249.1" width="1.0" height="17.7" fill="#03907a" opacity="0.9"/><rect x="879.82" y="254.8" width="2.0" height="11.5" fill="#03907a"/><rect x="884.07" y="242.4" width="1.0" height="19.5" fill="#03907a" opacity="0.9"/><rect x="883.57" y="248.2" width="2.0" height="6.6" fill="#03907a"/><rect x="887.82" y="241.5" width="1.0" height="23.7" fill="#f0203a" opacity="0.9"/><rect x="887.32" y="248.2" width="2.0" height="11.9" fill="#f0203a"/><rect x="891.57" y="243.1" width="1.0" height="28.1" fill="#03907a" opacity="0.9"/><rect x="891.07" y="244.2" width="2.0" height="15.9" fill="#03907a"/><rect x="895.32" y="243.1" width="1.0" height="19.9" fill="#f0203a" opacity="0.9"/><rect x="894.82" y="244.2" width="2.0" height="10.0" fill="#f0203a"/><rect x="899.07" y="238.7" width="1.0" height="16.1" fill="#03907a" opacity="0.9"/><rect x="898.57" y="247.5" width="2.0" height="6.7" fill="#03907a"/><rect x="902.82" y="244.6" width="1.0" height="4.5" fill="#03907a" opacity="0.9"/><rect x="902.32" y="246.0" width="2.0" height="1.5" fill="#03907a"/><rect x="906.58" y="246.0" width="1.0" height="11.9" fill="#f0203a" opacity="0.9"/><rect x="906.08" y="246.4" width="2.0" height="11.1" fill="#f0203a"/><rect x="910.33" y="251.3" width="1.0" height="11.1" fill="#f0203a" opacity="0.9"/><rect x="909.83" y="257.0" width="2.0" height="3.1" fill="#f0203a"/><rect x="914.08" y="253.5" width="1.0" height="22.1" fill="#f0203a" opacity="0.9"/><rect x="913.58" y="259.7" width="2.0" height="1.8" fill="#f0203a"/><rect x="917.83" y="252.0" width="1.0" height="12.1" fill="#03907a" opacity="0.9"/><rect x="917.33" y="252.6" width="2.0" height="8.2" fill="#03907a"/><rect x="921.58" y="239.3" width="1.0" height="14.9" fill="#03907a" opacity="0.9"/><rect x="921.08" y="242.0" width="2.0" height="11.5" fill="#03907a"/><rect x="925.33" y="234.2" width="1.0" height="31.0" fill="#f0203a" opacity="0.9"/><rect x="924.83" y="242.0" width="2.0" height="15.0" fill="#f0203a"/><rect x="929.08" y="251.3" width="1.0" height="8.0" fill="#03907a" opacity="0.9"/><rect x="928.58" y="254.2" width="2.0" height="2.8" fill="#03907a"/><rect x="932.83" y="253.1" width="1.0" height="9.9" fill="#f0203a" opacity="0.9"/><rect x="932.33" y="254.2" width="2.0" height="2.2" fill="#f0203a"/><rect x="936.59" y="255.0" width="1.0" height="36.0" fill="#f0203a" opacity="0.9"/><rect x="936.09" y="256.1" width="2.0" height="34.3" fill="#f0203a"/><rect x="940.34" y="282.2" width="1.0" height="44.3" fill="#f0203a" opacity="0.9"/><rect x="939.84" y="289.3" width="2.0" height="18.8" fill="#f0203a"/><rect x="944.09" y="303.7" width="1.0" height="49.8" fill="#f0203a" opacity="0.9"/><rect x="943.59" y="308.1" width="2.0" height="31.0" fill="#f0203a"/><rect x="947.84" y="319.8" width="1.0" height="26.6" fill="#03907a" opacity="0.9"/><rect x="947.34" y="335.8" width="2.0" height="4.4" fill="#03907a"/><rect x="951.59" y="334.7" width="1.0" height="44.9" fill="#f0203a" opacity="0.9"/><rect x="951.09" y="335.8" width="2.0" height="2.2" fill="#f0203a"/><rect x="955.34" y="323.6" width="1.0" height="18.4" fill="#03907a" opacity="0.9"/><rect x="954.84" y="326.5" width="2.0" height="11.5" fill="#03907a"/><rect x="959.09" y="264.5" width="1.0" height="68.6" fill="#03907a" opacity="0.9"/><rect x="958.59" y="269.8" width="2.0" height="57.1" fill="#03907a"/><rect x="962.84" y="268.9" width="1.0" height="64.7" fill="#f0203a" opacity="0.9"/><rect x="962.34" y="269.8" width="2.0" height="57.1" fill="#f0203a"/><rect x="966.60" y="307.4" width="1.0" height="50.5" fill="#03907a" opacity="0.9"/><rect x="966.10" y="318.5" width="2.0" height="8.4" fill="#03907a"/><rect x="970.35" y="292.6" width="1.0" height="31.0" fill="#03907a" opacity="0.9"/><rect x="969.85" y="294.1" width="2.0" height="24.4" fill="#03907a"/><rect x="974.10" y="279.3" width="1.0" height="34.8" fill="#f0203a" opacity="0.9"/><rect x="973.60" y="294.8" width="2.0" height="5.5" fill="#f0203a"/><rect x="977.85" y="291.0" width="1.0" height="44.3" fill="#f0203a" opacity="0.9"/><rect x="977.35" y="299.9" width="2.0" height="22.6" fill="#f0203a"/><rect x="981.60" y="320.3" width="1.0" height="11.5" fill="#f0203a" opacity="0.9"/><rect x="981.10" y="321.4" width="2.0" height="3.7" fill="#f0203a"/><rect x="985.35" y="323.6" width="1.0" height="42.7" fill="#f0203a" opacity="0.9"/><rect x="984.85" y="325.1" width="2.0" height="39.9" fill="#f0203a"/><rect x="989.10" y="340.6" width="1.0" height="45.0" fill="#f0203a" opacity="0.9"/><rect x="988.60" y="364.5" width="2.0" height="14.4" fill="#f0203a"/><rect x="992.85" y="344.2" width="1.0" height="47.8" fill="#03907a" opacity="0.9"/><rect x="992.35" y="348.6" width="2.0" height="30.3" fill="#03907a"/><rect x="996.60" y="339.1" width="1.0" height="22.8" fill="#03907a" opacity="0.9"/><rect x="996.10" y="342.4" width="2.0" height="6.7" fill="#03907a"/><rect x="1000.36" y="339.1" width="1.0" height="28.8" fill="#f0203a" opacity="0.9"/><rect x="999.86" y="342.4" width="2.0" height="18.8" fill="#f0203a"/><rect x="1004.11" y="332.4" width="1.0" height="29.9" fill="#03907a" opacity="0.9"/><rect x="1003.61" y="340.6" width="2.0" height="21.3" fill="#03907a"/><rect x="1007.86" y="335.8" width="1.0" height="6.6" fill="#03907a" opacity="0.9"/><rect x="1007.36" y="339.1" width="2.0" height="1.5" fill="#03907a"/><rect x="1011.61" y="333.6" width="1.0" height="17.7" fill="#f0203a" opacity="0.9"/><rect x="1011.11" y="339.1" width="2.0" height="11.7" fill="#f0203a"/><rect x="1015.36" y="335.8" width="1.0" height="15.9" fill="#03907a" opacity="0.9"/><rect x="1014.86" y="340.2" width="2.0" height="10.6" fill="#03907a"/><rect x="1019.11" y="339.5" width="1.0" height="20.1" fill="#f0203a" opacity="0.9"/><rect x="1018.61" y="340.3" width="2.0" height="9.7" fill="#f0203a"/><rect x="1022.86" y="319.8" width="1.0" height="30.6" fill="#03907a" opacity="0.9"/><rect x="1022.36" y="320.5" width="2.0" height="29.5" fill="#03907a"/><rect x="1026.61" y="316.8" width="1.0" height="26.0" fill="#f0203a" opacity="0.9"/><rect x="1026.11" y="320.5" width="2.0" height="19.8" fill="#f0203a"/><rect x="1030.37" y="334.9" width="1.0" height="11.3" fill="#f0203a" opacity="0.9"/><rect x="1029.87" y="339.5" width="2.0" height="1.6" fill="#f0203a"/><rect x="1034.12" y="336.9" width="1.0" height="5.9" fill="#f0203a" opacity="0.9"/><rect x="1033.62" y="340.3" width="2.0" height="2.0" fill="#f0203a"/><rect x="1037.87" y="326.0" width="1.0" height="17.3" fill="#03907a" opacity="0.9"/><rect x="1037.37" y="326.5" width="2.0" height="16.3" fill="#03907a"/><rect x="1041.62" y="307.6" width="1.0" height="22.3" fill="#03907a" opacity="0.9"/><rect x="1041.12" y="316.5" width="2.0" height="10.0" fill="#03907a"/><rect x="1045.37" y="309.2" width="1.0" height="15.1" fill="#f0203a" opacity="0.9"/><rect x="1044.87" y="316.0" width="2.0" height="2.1" fill="#f0203a"/><rect x="1049.12" y="311.4" width="1.0" height="16.3" fill="#f0203a" opacity="0.9"/><rect x="1048.62" y="316.8" width="2.0" height="4.7" fill="#f0203a"/><rect x="1052.87" y="314.8" width="1.0" height="12.9" fill="#03907a" opacity="0.9"/><rect x="1052.37" y="318.8" width="2.0" height="2.7" fill="#03907a"/><rect x="1056.62" y="316.5" width="1.0" height="26.8" fill="#f0203a" opacity="0.9"/><rect x="1056.12" y="318.1" width="2.0" height="20.9" fill="#f0203a"/><rect x="1060.38" y="336.1" width="1.0" height="21.0" fill="#f0203a" opacity="0.9"/><rect x="1059.88" y="338.6" width="2.0" height="11.8" fill="#f0203a"/><rect x="1064.13" y="344.5" width="1.0" height="12.6" fill="#f0203a" opacity="0.9"/><rect x="1063.63" y="349.5" width="2.0" height="3.4" fill="#f0203a"/><rect x="1067.88" y="341.6" width="1.0" height="17.5" fill="#03907a" opacity="0.9"/><rect x="1067.38" y="350.7" width="2.0" height="2.2" fill="#03907a"/><rect x="1071.63" y="331.1" width="1.0" height="20.6" fill="#03907a" opacity="0.9"/><rect x="1071.13" y="332.7" width="2.0" height="18.5" fill="#03907a"/><rect x="1075.38" y="310.1" width="1.0" height="41.6" fill="#f0203a" opacity="0.9"/><rect x="1074.88" y="332.7" width="2.0" height="18.5" fill="#f0203a"/><rect x="1079.13" y="341.6" width="1.0" height="17.5" fill="#03907a" opacity="0.9"/><rect x="1078.63" y="347.0" width="2.0" height="4.2" fill="#03907a"/><rect x="1082.88" y="336.1" width="1.0" height="20.2" fill="#03907a" opacity="0.9"/><rect x="1082.38" y="341.1" width="2.0" height="6.3" fill="#03907a"/><rect x="1086.63" y="339.5" width="1.0" height="12.2" fill="#f0203a" opacity="0.9"/><rect x="1086.13" y="341.1" width="2.0" height="3.4" fill="#f0203a"/><rect x="1090.38" y="343.3" width="1.0" height="44.0" fill="#f0203a" opacity="0.9"/><rect x="1089.88" y="344.0" width="2.0" height="37.4" fill="#f0203a"/><rect x="1094.14" y="360.8" width="1.0" height="45.8" fill="#03907a" opacity="0.9"/><rect x="1093.64" y="373.9" width="2.0" height="7.5" fill="#03907a"/><rect x="1097.89" y="363.0" width="1.0" height="31.4" fill="#f0203a" opacity="0.9"/><rect x="1097.39" y="373.9" width="2.0" height="19.8" fill="#f0203a"/><rect x="1101.64" y="343.5" width="1.0" height="61.0" fill="#03907a" opacity="0.9"/><rect x="1101.14" y="351.0" width="2.0" height="43.0" fill="#03907a"/><rect x="1105.39" y="348.8" width="1.0" height="29.7" fill="#f0203a" opacity="0.9"/><rect x="1104.89" y="350.3" width="2.0" height="20.7" fill="#f0203a"/><rect x="1109.14" y="339.5" width="1.0" height="36.5" fill="#03907a" opacity="0.9"/><rect x="1108.64" y="345.3" width="2.0" height="26.2" fill="#03907a"/><rect x="1112.89" y="327.7" width="1.0" height="20.6" fill="#03907a" opacity="0.9"/><rect x="1112.39" y="332.0" width="2.0" height="13.8" fill="#03907a"/><rect x="1116.64" y="326.9" width="1.0" height="20.1" fill="#f0203a" opacity="0.9"/><rect x="1116.14" y="332.0" width="2.0" height="11.8" fill="#f0203a"/><rect x="1120.39" y="330.2" width="1.0" height="13.6" fill="#03907a" opacity="0.9"/><rect x="1119.89" y="337.0" width="2.0" height="6.3" fill="#03907a"/><rect x="1124.15" y="324.4" width="1.0" height="19.4" fill="#f0203a" opacity="0.9"/><rect x="1123.65" y="337.0" width="2.0" height="6.3" fill="#f0203a"/><rect x="1127.90" y="330.7" width="1.0" height="16.3" fill="#03907a" opacity="0.9"/><rect x="1127.40" y="340.8" width="2.0" height="2.5" fill="#03907a"/><rect x="1131.65" y="330.7" width="1.0" height="11.3" fill="#03907a" opacity="0.9"/><rect x="1131.15" y="334.5" width="2.0" height="6.8" fill="#03907a"/><rect x="1135.40" y="333.2" width="1.0" height="5.5" fill="#f0203a" opacity="0.9"/><rect x="1134.90" y="334.5" width="2.0" height="3.2" fill="#f0203a"/><rect x="1139.15" y="330.2" width="1.0" height="8.5" fill="#03907a" opacity="0.9"/><rect x="1138.65" y="333.7" width="2.0" height="4.0" fill="#03907a"/><rect x="1142.90" y="331.9" width="1.0" height="8.4" fill="#03907a" opacity="0.9"/><rect x="1142.40" y="332.7" width="2.0" height="1.8" fill="#03907a"/><rect x="1146.65" y="310.0" width="1.0" height="23.7" fill="#03907a" opacity="0.9"/><rect x="1146.15" y="315.6" width="2.0" height="17.6" fill="#03907a"/><rect x="1150.40" y="273.2" width="1.0" height="45.4" fill="#03907a" opacity="0.9"/><rect x="1149.90" y="274.8" width="2.0" height="42.0" fill="#03907a"/><rect x="1154.16" y="268.2" width="1.0" height="17.6" fill="#03907a" opacity="0.9"/><rect x="1153.66" y="274.0" width="2.0" height="1.3" fill="#03907a"/><rect x="1157.91" y="267.7" width="1.0" height="19.7" fill="#03907a" opacity="0.9"/><rect x="1157.41" y="271.5" width="2.0" height="3.3" fill="#03907a"/><rect x="1161.66" y="259.6" width="1.0" height="12.6" fill="#03907a" opacity="0.9"/><rect x="1161.16" y="267.2" width="2.0" height="4.3" fill="#03907a"/><rect x="1165.41" y="262.7" width="1.0" height="9.5" fill="#f0203a" opacity="0.9"/><rect x="1164.91" y="263.9" width="2.0" height="2.5" fill="#f0203a"/><rect x="1169.16" y="262.7" width="1.0" height="12.1" fill="#f0203a" opacity="0.9"/><rect x="1168.66" y="263.9" width="2.0" height="10.1" fill="#f0203a"/><rect x="1172.91" y="260.7" width="1.0" height="19.1" fill="#03907a" opacity="0.9"/><rect x="1172.41" y="263.9" width="2.0" height="10.1" fill="#03907a"/><rect x="1176.66" y="262.2" width="1.0" height="8.5" fill="#f0203a" opacity="0.9"/><rect x="1176.16" y="263.9" width="2.0" height="5.8" fill="#f0203a"/><rect x="1180.41" y="266.4" width="1.0" height="12.6" fill="#f0203a" opacity="0.9"/><rect x="1179.91" y="270.2" width="2.0" height="1.3" fill="#f0203a"/><rect x="1184.16" y="248.1" width="1.0" height="24.1" fill="#03907a" opacity="0.9"/><rect x="1183.66" y="255.1" width="2.0" height="16.4" fill="#03907a"/><rect x="1187.92" y="244.5" width="1.0" height="10.9" fill="#03907a" opacity="0.9"/><rect x="1187.42" y="251.5" width="2.0" height="3.2" fill="#03907a"/><rect x="1191.67" y="251.1" width="1.0" height="8.9" fill="#f0203a" opacity="0.9"/><rect x="1191.17" y="251.8" width="2.0" height="7.7" fill="#f0203a"/><rect x="1195.42" y="255.6" width="1.0" height="15.0" fill="#f0203a" opacity="0.9"/><rect x="1194.92" y="259.1" width="2.0" height="11.1" fill="#f0203a"/><rect x="1199.17" y="263.5" width="1.0" height="11.1" fill="#03907a" opacity="0.9"/><rect x="1198.67" y="267.3" width="2.0" height="2.9" fill="#03907a"/><rect x="1202.92" y="251.8" width="1.0" height="23.7" fill="#03907a" opacity="0.9"/><rect x="1202.42" y="252.9" width="2.0" height="15.1" fill="#03907a"/><rect x="1206.67" y="247.4" width="1.0" height="11.0" fill="#03907a" opacity="0.9"/><rect x="1206.17" y="250.7" width="2.0" height="2.2" fill="#03907a"/><rect x="1210.42" y="203.1" width="1.0" height="48.7" fill="#03907a" opacity="0.9"/><rect x="1209.92" y="207.5" width="2.0" height="43.6" fill="#03907a"/><rect x="1214.17" y="200.9" width="1.0" height="12.6" fill="#f0203a" opacity="0.9"/><rect x="1213.67" y="207.5" width="2.0" height="2.9" fill="#f0203a"/><rect x="1217.93" y="196.5" width="1.0" height="14.3" fill="#03907a" opacity="0.9"/><rect x="1217.43" y="198.0" width="2.0" height="12.4" fill="#03907a"/><rect x="1221.68" y="197.1" width="1.0" height="9.3" fill="#f0203a" opacity="0.9"/><rect x="1221.18" y="198.0" width="2.0" height="5.1" fill="#f0203a"/><rect x="1225.43" y="191.4" width="1.0" height="33.2" fill="#f0203a" opacity="0.9"/><rect x="1224.93" y="202.4" width="2.0" height="8.9" fill="#f0203a"/><rect x="1229.18" y="196.5" width="1.0" height="22.8" fill="#03907a" opacity="0.9"/><rect x="1228.68" y="202.0" width="2.0" height="9.3" fill="#03907a"/><rect x="1232.93" y="200.2" width="1.0" height="12.4" fill="#f0203a" opacity="0.9"/><rect x="1232.43" y="202.0" width="2.0" height="4.9" fill="#f0203a"/><rect x="1236.68" y="202.0" width="1.0" height="17.7" fill="#03907a" opacity="0.9"/><rect x="1236.18" y="204.2" width="2.0" height="2.7" fill="#03907a"/><rect x="1240.43" y="199.3" width="1.0" height="8.2" fill="#f0203a" opacity="0.9"/><rect x="1239.93" y="204.2" width="2.0" height="1.8" fill="#f0203a"/><rect x="1244.18" y="204.6" width="1.0" height="6.7" fill="#f0203a" opacity="0.9"/><rect x="1243.68" y="206.0" width="2.0" height="2.6" fill="#f0203a"/><rect x="1247.94" y="185.4" width="1.0" height="23.7" fill="#03907a" opacity="0.9"/><rect x="1247.44" y="186.0" width="2.0" height="22.6" fill="#03907a"/><rect x="1251.69" y="181.6" width="1.0" height="33.7" fill="#f0203a" opacity="0.9"/><rect x="1251.19" y="186.0" width="2.0" height="6.0" fill="#f0203a"/><rect x="1255.44" y="180.3" width="1.0" height="20.6" fill="#03907a" opacity="0.9"/><rect x="1254.94" y="183.8" width="2.0" height="8.2" fill="#03907a"/><rect x="1259.19" y="156.6" width="1.0" height="30.3" fill="#03907a" opacity="0.9"/><rect x="1258.69" y="163.9" width="2.0" height="19.9" fill="#03907a"/><rect x="1262.94" y="148.4" width="1.0" height="17.1" fill="#03907a" opacity="0.9"/><rect x="1262.44" y="150.0" width="2.0" height="13.9" fill="#03907a"/><rect x="1266.69" y="149.3" width="1.0" height="33.2" fill="#f0203a" opacity="0.9"/><rect x="1266.19" y="150.0" width="2.0" height="30.8" fill="#f0203a"/><rect x="1270.44" y="164.8" width="1.0" height="17.3" fill="#03907a" opacity="0.9"/><rect x="1269.94" y="176.5" width="2.0" height="4.5" fill="#03907a"/><rect x="1274.19" y="166.1" width="1.0" height="18.2" fill="#03907a" opacity="0.9"/><rect x="1273.69" y="167.7" width="2.0" height="9.9" fill="#03907a"/><rect x="1277.94" y="158.8" width="1.0" height="11.1" fill="#03907a" opacity="0.9"/><rect x="1277.44" y="164.8" width="2.0" height="4.0" fill="#03907a"/><rect x="1281.70" y="156.6" width="1.0" height="21.0" fill="#f0203a" opacity="0.9"/><rect x="1281.20" y="164.8" width="2.0" height="4.0" fill="#f0203a"/><rect x="1285.45" y="167.0" width="1.0" height="15.5" fill="#f0203a" opacity="0.9"/><rect x="1284.95" y="167.7" width="2.0" height="8.8" fill="#f0203a"/><rect x="1289.20" y="168.3" width="1.0" height="24.8" fill="#f0203a" opacity="0.9"/><rect x="1288.70" y="176.5" width="2.0" height="16.2" fill="#f0203a"/><rect x="1292.95" y="186.5" width="1.0" height="18.1" fill="#f0203a" opacity="0.9"/><rect x="1292.45" y="192.0" width="2.0" height="12.2" fill="#f0203a"/><rect x="1296.70" y="197.1" width="1.0" height="11.5" fill="#03907a" opacity="0.9"/><rect x="1296.20" y="198.0" width="2.0" height="6.2" fill="#03907a"/><rect x="1300.45" y="189.8" width="1.0" height="14.4" fill="#03907a" opacity="0.9"/><rect x="1299.95" y="191.4" width="2.0" height="6.6" fill="#03907a"/><rect x="1304.20" y="189.1" width="1.0" height="15.5" fill="#03907a" opacity="0.9"/><rect x="1303.70" y="189.8" width="2.0" height="2.2" fill="#03907a"/><rect x="1307.95" y="183.2" width="1.0" height="12.1" fill="#f0203a" opacity="0.9"/><rect x="1307.45" y="189.8" width="2.0" height="3.3" fill="#f0203a"/><rect x="1311.71" y="190.9" width="1.0" height="9.3" fill="#f0203a" opacity="0.9"/><rect x="1311.21" y="192.7" width="2.0" height="6.6" fill="#f0203a"/><rect x="1315.46" y="189.8" width="1.0" height="37.6" fill="#f0203a" opacity="0.9"/><rect x="1314.96" y="197.1" width="2.0" height="23.0" fill="#f0203a"/><rect x="1319.21" y="193.1" width="1.0" height="29.3" fill="#03907a" opacity="0.9"/><rect x="1318.71" y="199.3" width="2.0" height="20.8" fill="#03907a"/><rect x="1322.96" y="189.8" width="1.0" height="13.3" fill="#03907a" opacity="0.9"/><rect x="1322.46" y="191.4" width="2.0" height="9.5" fill="#03907a"/><rect x="1326.71" y="186.0" width="1.0" height="8.9" fill="#03907a" opacity="0.9"/><rect x="1326.21" y="190.5" width="2.0" height="2.2" fill="#03907a"/><rect x="1330.46" y="157.3" width="1.0" height="35.8" fill="#03907a" opacity="0.9"/><rect x="1329.96" y="159.5" width="2.0" height="31.9" fill="#03907a"/><rect x="1334.21" y="158.8" width="1.0" height="14.4" fill="#f0203a" opacity="0.9"/><rect x="1333.71" y="159.5" width="2.0" height="11.9" fill="#f0203a"/><rect x="1337.96" y="158.8" width="1.0" height="15.5" fill="#f0203a" opacity="0.9"/><rect x="1337.46" y="159.5" width="2.0" height="11.1" fill="#f0203a"/><rect x="1341.72" y="169.9" width="1.0" height="20.6" fill="#f0203a" opacity="0.9"/><rect x="1341.22" y="170.6" width="2.0" height="19.2" fill="#f0203a"/><rect x="1345.47" y="187.6" width="1.0" height="23.2" fill="#03907a" opacity="0.9"/><rect x="1344.97" y="188.3" width="2.0" height="1.0" fill="#03907a"/><rect x="1349.22" y="187.4" width="1.0" height="12.4" fill="#f0203a" opacity="0.9"/><rect x="1348.72" y="188.0" width="2.0" height="5.1" fill="#f0203a"/><rect x="1352.97" y="188.0" width="1.0" height="11.1" fill="#03907a" opacity="0.9"/><rect x="1352.47" y="188.7" width="2.0" height="4.4" fill="#03907a"/><rect x="1356.72" y="168.8" width="1.0" height="25.9" fill="#03907a" opacity="0.9"/><rect x="1356.22" y="183.6" width="2.0" height="9.5" fill="#03907a"/><rect x="1360.47" y="176.3" width="1.0" height="30.1" fill="#f0203a" opacity="0.9"/><rect x="1359.97" y="183.6" width="2.0" height="15.5" fill="#f0203a"/><rect x="1364.22" y="191.8" width="1.0" height="12.8" fill="#03907a" opacity="0.9"/><rect x="1363.72" y="196.2" width="2.0" height="3.6" fill="#03907a"/><rect x="1367.97" y="194.7" width="1.0" height="9.5" fill="#f0203a" opacity="0.9"/><rect x="1367.47" y="196.2" width="2.0" height="1.8" fill="#f0203a"/><rect x="1371.72" y="185.1" width="1.0" height="28.8" fill="#f0203a" opacity="0.9"/><rect x="1371.22" y="198.0" width="2.0" height="9.3" fill="#f0203a"/><rect x="1375.48" y="202.4" width="1.0" height="21.0" fill="#f0203a" opacity="0.9"/><rect x="1374.98" y="207.3" width="2.0" height="8.0" fill="#f0203a"/><rect x="1379.23" y="207.9" width="1.0" height="34.8" fill="#f0203a" opacity="0.9"/><rect x="1378.73" y="214.6" width="2.0" height="10.4" fill="#f0203a"/><rect x="1382.98" y="188.7" width="1.0" height="44.3" fill="#03907a" opacity="0.9"/><rect x="1382.48" y="191.8" width="2.0" height="33.2" fill="#03907a"/><rect x="1386.73" y="186.9" width="1.0" height="10.0" fill="#03907a" opacity="0.9"/><rect x="1386.23" y="188.7" width="2.0" height="3.1" fill="#03907a"/><rect x="1390.48" y="174.1" width="1.0" height="15.5" fill="#03907a" opacity="0.9"/><rect x="1389.98" y="179.2" width="2.0" height="9.5" fill="#03907a"/><rect x="1394.23" y="173.2" width="1.0" height="11.1" fill="#f0203a" opacity="0.9"/><rect x="1393.73" y="179.2" width="2.0" height="3.7" fill="#f0203a"/><rect x="1397.98" y="179.2" width="1.0" height="6.6" fill="#03907a" opacity="0.9"/><rect x="1397.48" y="181.4" width="2.0" height="1.5" fill="#03907a"/><rect x="1401.73" y="178.5" width="1.0" height="4.4" fill="#03907a" opacity="0.9"/><rect x="1401.23" y="179.8" width="2.0" height="2.2" fill="#03907a"/><rect x="1405.49" y="171.0" width="1.0" height="10.4" fill="#03907a" opacity="0.9"/><rect x="1404.99" y="171.9" width="2.0" height="8.4" fill="#03907a"/><rect x="1409.24" y="169.2" width="1.0" height="14.4" fill="#f0203a" opacity="0.9"/><rect x="1408.74" y="171.9" width="2.0" height="9.5" fill="#f0203a"/><rect x="1412.99" y="179.2" width="1.0" height="14.8" fill="#f0203a" opacity="0.9"/><rect x="1412.49" y="180.7" width="2.0" height="11.1" fill="#f0203a"/><rect x="1416.74" y="163.0" width="1.0" height="30.6" fill="#03907a" opacity="0.9"/><rect x="1416.24" y="169.6" width="2.0" height="22.2" fill="#03907a"/><rect x="1420.49" y="158.1" width="1.0" height="12.9" fill="#03907a" opacity="0.9"/><rect x="1419.99" y="164.3" width="2.0" height="6.0" fill="#03907a"/><rect x="1424.24" y="163.0" width="1.0" height="16.8" fill="#f0203a" opacity="0.9"/><rect x="1423.74" y="163.7" width="2.0" height="11.7" fill="#f0203a"/><rect x="1427.99" y="172.1" width="1.0" height="4.0" fill="#03907a" opacity="0.9"/><rect x="1427.49" y="173.5" width="2.0" height="1.6" fill="#03907a"/><rect x="1431.74" y="163.2" width="1.0" height="12.3" fill="#03907a" opacity="0.9"/><rect x="1431.24" y="167.2" width="2.0" height="7.5" fill="#03907a"/><rect x="1435.50" y="163.6" width="1.0" height="15.1" fill="#f0203a" opacity="0.9"/><rect x="1435.00" y="167.2" width="2.0" height="6.3" fill="#f0203a"/><rect x="1439.25" y="167.2" width="1.0" height="11.9" fill="#03907a" opacity="0.9"/><rect x="1438.75" y="168.8" width="2.0" height="4.7" fill="#03907a"/><rect x="1443.00" y="148.3" width="1.0" height="24.4" fill="#03907a" opacity="0.9"/><rect x="1442.50" y="152.3" width="2.0" height="16.5" fill="#03907a"/><rect x="1446.75" y="116.0" width="1.0" height="40.9" fill="#03907a" opacity="0.9"/><rect x="1446.25" y="119.5" width="2.0" height="33.4" fill="#03907a"/><rect x="1450.50" y="100.7" width="1.0" height="24.4" fill="#03907a" opacity="0.9"/><rect x="1450.00" y="110.0" width="2.0" height="10.5" fill="#03907a"/><rect x="1454.25" y="104.7" width="1.0" height="9.3" fill="#f0203a" opacity="0.9"/><rect x="1453.75" y="106.1" width="2.0" height="3.9" fill="#f0203a"/><rect x="1458.00" y="96.7" width="1.0" height="14.5" fill="#03907a" opacity="0.9"/><rect x="1457.50" y="98.7" width="2.0" height="11.9" fill="#03907a"/><rect x="1461.75" y="71.5" width="1.0" height="28.2" fill="#03907a" opacity="0.9"/><rect x="1461.25" y="93.3" width="2.0" height="6.0" fill="#03907a"/><rect x="1465.50" y="92.8" width="1.0" height="28.3" fill="#f0203a" opacity="0.9"/><rect x="1465.00" y="93.3" width="2.0" height="14.3" fill="#f0203a"/><rect x="1469.26" y="92.2" width="1.0" height="20.4" fill="#03907a" opacity="0.9"/><rect x="1468.76" y="100.7" width="2.0" height="6.9" fill="#03907a"/><rect x="1473.01" y="85.4" width="1.0" height="24.2" fill="#03907a" opacity="0.9"/><rect x="1472.51" y="96.7" width="2.0" height="4.6" fill="#03907a"/><rect x="1476.76" y="85.8" width="1.0" height="27.4" fill="#f0203a" opacity="0.9"/><rect x="1476.26" y="98.1" width="2.0" height="8.5" fill="#f0203a"/><rect x="1480.51" y="102.7" width="1.0" height="7.3" fill="#f0203a" opacity="0.9"/><rect x="1480.01" y="106.1" width="2.0" height="2.5" fill="#f0203a"/><rect x="1484.26" y="100.1" width="1.0" height="15.9" fill="#f0203a" opacity="0.9"/><rect x="1483.76" y="106.6" width="2.0" height="5.0" fill="#f0203a"/><rect x="1488.01" y="94.7" width="1.0" height="20.9" fill="#03907a" opacity="0.9"/><rect x="1487.51" y="110.6" width="2.0" height="1.0" fill="#03907a"/><rect x="1491.76" y="90.2" width="1.0" height="27.8" fill="#03907a" opacity="0.9"/><rect x="1491.26" y="92.8" width="2.0" height="17.8" fill="#03907a"/><rect x="1495.51" y="91.8" width="1.0" height="18.8" fill="#f0203a" opacity="0.9"/><rect x="1495.01" y="92.8" width="2.0" height="7.9" fill="#f0203a"/><rect x="1498.77" y="99.8" width="2.0" height="1" fill="#089981"/>
<path d="M1076.1,359.3 L1085.0,385.0 L1078.6,382.0 Q1070,410 1056.4,447.4 Q1060,410 1064.8,379.0 L1057.1,379.4 Z" fill="#f23645"/>
<path d="M1382.6,109.2 L1383.6,109.4 Q1397,127 1405.0,150.4 L1408.8,148.1 L1406.1,164.1 L1393.1,155.2 L1397.6,153.1 Q1386,132 1382.6,109.2 Z" fill="#f23645"/>
</g>
</svg>
<div class="fr" style="left:7px;top:631.5px;width:1532px;height:1.5px"></div>
<div class="fr" style="left:1540px;top:631.5px;width:54.7px;height:1.5px"></div>
<div class="btn"></div>
<svg style="position:absolute;left:0;top:0" width="1600" height="655">
<path d="M21.3,56.6 L24,54 L26.7,56.6" fill="none" stroke="#131722" stroke-width="1"/>
<circle cx="27.5" cy="610.6" r="12" fill="#fff" stroke="#e0e3eb" stroke-width="0.8"/>
<g fill="#131722"><path d="M20,607.9 H26.2 V614.9 H23.6 V609.9 H20 Z M31.7,607.9 H34.9 L32.1,614.9 H29.4 Z"/><circle cx="28.6" cy="608.8" r="0.95"/></g>
<path d="M1562.8,642.4 L1565,638.1 L1570.4,638.1 L1572.6,642.4 L1570.4,646.2 L1565,646.2 Z" fill="none" stroke="#50535e" stroke-width="1.1" stroke-linejoin="round"/>
<circle cx="1567.7" cy="642.4" r="1.3" fill="none" stroke="#50535e" stroke-width="1.1"/>
</svg>
<div class="t">
<div class="hdr">BTC/USD · 1D · CoinMarketCap</div>
<div class="ohlc" style="left:172.5px">O<span>118,954.48</span></div>
<div class="ohlc" style="left:229.6px">H<span>118,954.48</span></div>
<div class="ohlc" style="left:287px">L<span>118,954.48</span></div>
<div class="ohlc" style="left:342.4px">C<span>118,954.48</span></div>
<div class="ohlc" style="left:399px;letter-spacing:-0.16px"><span>+199.52 (+0.17%)</span></div>
<div class="vol">Volume</div>
<div class="pl" style="top:609.30px">44,000.00</div><div class="pl" style="top:581.74px">48,000.00</div><div class="pl" style="top:554.19px">52,000.00</div><div class="pl" style="top:526.63px">56,000.00</div><div class="pl" style="top:499.08px">60,000.00</div><div class="pl" style="top:471.52px">64,000.00</div><div class="pl" style="top:443.96px">68,000.00</div><div class="pl" style="top:416.41px">72,000.00</div><div class="pl" style="top:388.85px">76,000.00</div><div class="pl" style="top:361.30px">80,000.00</div><div class="pl" style="top:333.74px">84,000.00</div><div class="pl" style="top:306.18px">88,000.00</div><div class="pl" style="top:278.63px">92,000.00</div><div class="pl" style="top:251.07px">96,000.00</div><div class="pl" style="top:223.52px">100,000.00</div><div class="pl" style="top:195.96px">104,000.00</div><div class="pl" style="top:168.40px">108,000.00</div><div class="pl" style="top:140.85px">112,000.00</div><div class="pl" style="top:113.29px">116,000.00</div><div class="pl" style="top:85.74px">120,000.00</div><div class="pl" style="top:58.18px">124,000.00</div><div class="pl" style="top:30.62px">128,000.00</div><div class="pl" style="top:3.07px">132,000.00</div>
<div class="tag">118,954.48</div>
<div class="tl" style="left:14.30px">Jul</div><div class="tl" style="left:130.59px">Aug</div><div class="tl" style="left:246.87px">Sep</div><div class="tl" style="left:359.41px">Oct</div><div class="tl" style="left:475.70px">Nov</div><div class="tl" style="left:588.23px">Dec</div><div class="tl b" style="left:704.52px">2025</div><div class="tl" style="left:820.81px">Feb</div><div class="tl" style="left:925.84px">Mar</div><div class="tl" style="left:1042.13px">Apr</div><div class="tl" style="left:1154.66px">May</div><div class="tl" style="left:1270.95px">Jun</div><div class="tl" style="left:1383.49px">Jul</div><div class="tl" style="left:1499.78px">Aug</div>
</div>
<div class="fr" style="left:0;top:5.3px;width:1594.7px;height:3.4px;z-index:5"></div>
<div class="fr" style="left:4.6px;top:5.3px;width:2.3px;height:645.6px;z-index:5"></div>
<svg style="position:absolute;left:0;top:0;z-index:6" width="20" height="655">
<path d="M6.9,8.7 h1.6 a1.6,1.6 0 0 0 -1.6,1.6 z M4.6,8.7 h-1.6 a1.6,1.6 0 0 1 1.6,1.6 z" fill="#e0e3eb"/>
<rect x="0.9" y="593.9" width="5.2" height="17.7" rx="1.4" fill="#fff" stroke="#e2e4ea" stroke-width="0.8"/>
<path d="M4.0,600.5 L2.3,602.7 L4.0,604.9" fill="none" stroke="#9598a1" stroke-width="0.8"/>
</svg>
</body></html>
